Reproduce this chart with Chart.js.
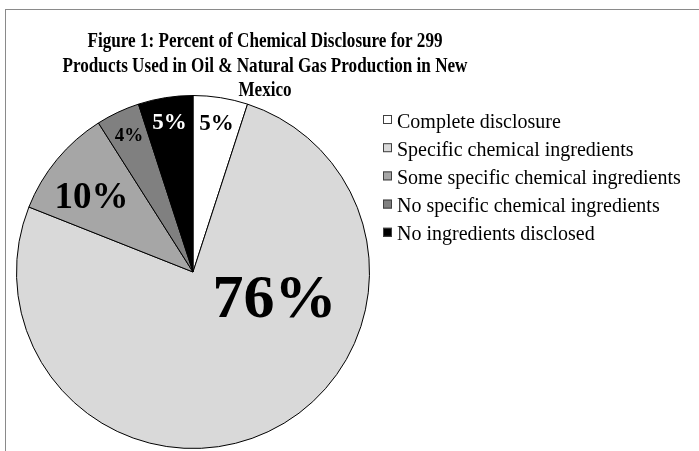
<!DOCTYPE html>
<html>
<head>
<meta charset="utf-8">
<title>Chemical Disclosure Pie</title>
<script src="https://cdn.jsdelivr.net/npm/chart.js@4.4.1/dist/chart.umd.min.js"></script>
<style>
  html, body { margin: 0; padding: 0; background: #ffffff; }
  #wrap { width: 699px; height: 451px; position: relative; }
  canvas { display: block; }
</style>
</head>
<body>
<div id="wrap"><canvas id="pie" width="699" height="451"></canvas></div>
<script>
// Categories and shares (percent of 299 products)
const categories = [
  'Complete disclosure',
  'Specific chemical ingredients',
  'Some specific chemical ingredients',
  'No specific chemical ingredients',
  'No ingredients disclosed'
];
const percents = [5, 76, 10, 4, 5];
const titleLines = [
  'Figure 1: Percent of Chemical Disclosure for 299',
  'Products Used in Oil & Natural Gas Production in New',
  'Mexico'
];

// Styling
const fills = ['#ffffff', '#d9d9d9', '#a6a6a6', '#808080', '#000000'];
const labelStyle = [
  { along: 0.5,   radius: 0.85,  size: 23, color: '#000000' },
  { along: 0.335, radius: 0.49,  size: 62, color: '#000000' },
  { along: 0.4,   radius: 0.71,  size: 37, color: '#000000' },
  { along: 0.5,   radius: 0.85,  size: 19, color: '#000000' },
  { along: 0.5,   radius: 0.855, size: 23, color: '#ffffff' }
];
const SERIF = '"Liberation Serif", "Times New Roman", Times, serif';
const TITLE_SQUEEZE = 0.815;   // condensed title lettering

// Outer frame of the chart area
const framePlugin = {
  id: 'frame',
  beforeDraw(chart) {
    const ctx = chart.ctx;
    ctx.save();
    ctx.fillStyle = '#ffffff';
    ctx.fillRect(0, 0, chart.width, chart.height);
    ctx.strokeStyle = '#8a8a8a';
    ctx.lineWidth = 1;
    ctx.strokeRect(5.5, 9.5, 900, 900);
    ctx.restore();
  }
};

// Three-line bold title, horizontally condensed
const titlePlugin = {
  id: 'threeLineTitle',
  afterDraw(chart) {
    const ctx = chart.ctx;
    const cx = 265;
    ctx.save();
    ctx.font = 'bold 21px ' + SERIF;
    ctx.fillStyle = '#000000';
    ctx.textAlign = 'center';
    ctx.textBaseline = 'alphabetic';
    ctx.translate(cx, 0);
    ctx.scale(TITLE_SQUEEZE, 1);
    titleLines.forEach((line, i) => ctx.fillText(line, 0, 47 + i * 24.5));
    ctx.restore();
  }
};

// Legend with small square swatches on the right
const sideLegendPlugin = {
  id: 'sideLegend',
  afterDraw(chart) {
    const ctx = chart.ctx;
    const ds = chart.data.datasets[0];
    ctx.save();
    ctx.font = '20px ' + SERIF;
    ctx.textAlign = 'left';
    ctx.textBaseline = 'alphabetic';
    chart.data.labels.forEach((lab, i) => {
      const base = 127.5 + i * 28.2;
      ctx.fillStyle = ds.backgroundColor[i];
      ctx.fillRect(383, base - 12.5, 9, 9);
      ctx.strokeStyle = '#404040';
      ctx.lineWidth = 1;
      ctx.strokeRect(383.5, base - 12, 8, 8);
      ctx.fillStyle = '#000000';
      ctx.fillText(lab, 397, base);
    });
    ctx.restore();
  }
};

// Percentage labels inside each slice
const sliceLabelPlugin = {
  id: 'sliceLabels',
  afterDatasetsDraw(chart) {
    const ctx = chart.ctx;
    const meta = chart.getDatasetMeta(0);
    const values = chart.data.datasets[0].data;
    ctx.save();
    ctx.textAlign = 'center';
    ctx.textBaseline = 'middle';
    meta.data.forEach((arc, i) => {
      const p = arc.getProps(['x', 'y', 'startAngle', 'endAngle', 'outerRadius'], true);
      const st = labelStyle[i];
      const a = p.startAngle + (p.endAngle - p.startAngle) * st.along;
      const r = p.outerRadius * st.radius;
      ctx.font = 'bold ' + st.size + 'px ' + SERIF;
      ctx.fillStyle = st.color;
      ctx.fillText(values[i] + '%', p.x + Math.cos(a) * r, p.y + Math.sin(a) * r);
    });
    ctx.restore();
  }
};

new Chart(document.getElementById('pie'), {
  type: 'pie',
  data: {
    labels: categories,
    datasets: [{
      data: percents,
      backgroundColor: fills,
      borderColor: '#000000',
      borderWidth: 1
    }]
  },
  options: {
    responsive: false,
    animation: false,
    devicePixelRatio: 1,
    layout: { padding: { left: 16, top: 95, right: 329, bottom: 2 } },
    plugins: {
      legend: { display: false },
      title: { display: false },
      tooltip: { enabled: false }
    }
  },
  plugins: [framePlugin, titlePlugin, sideLegendPlugin, sliceLabelPlugin]
});
</script>
</body>
</html>
